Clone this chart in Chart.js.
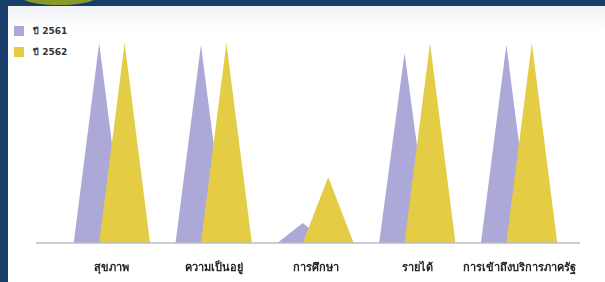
<!DOCTYPE html>
<html>
<head>
<meta charset="utf-8">
<script src="https://cdn.jsdelivr.net/npm/chart.js@4"></script>
<style>
  html, body { margin: 0; padding: 0; }
  body { width: 605px; height: 282px; background: #173d69; position: relative; overflow: hidden; }
  .logo { position: absolute; left: 22px; top: -10px; width: 74px; height: 15px; border-radius: 50%; background: #8a9a2a; }
  .panel { position: absolute; left: 8px; top: 6px; width: 597px; height: 276px;
           background: linear-gradient(#eef1f5 0px, #ffffff 22px); }
  .legend { position: absolute; left: 14px; top: 25px; font: bold 9px "DejaVu Sans", sans-serif; color: #333; }
  .legend div { display: flex; align-items: center; height: 11px; margin-bottom: 10px; }
  .legend span.sw { width: 10px; height: 10px; margin-right: 9px; display: inline-block; }
  canvas { position: absolute; left: 8px; top: 6px; }
</style>
</head>
<body>
<div class="logo"></div>
<div class="panel"></div>
<div class="legend" id="legend"></div>
<canvas id="chart" width="597" height="276"></canvas>
<script>
// ─── Data ─────────────────────────────────────────────

const CATEGORIES = ['สุขภาพ', 'ความเป็นอยู่', 'การศึกษา', 'รายได้', 'การเข้าถึงบริการภาครัฐ'];
const SERIES_NAMES = ['ปี 2561', 'ปี 2562'];
const VALUES_2561 = [100, 99, 10, 95, 99];
const VALUES_2562 = [100, 100, 33, 100, 100];
const COLORS = ['#aca8d8', '#e4cd45'];

// ─── Legend (vertical, top left) ──────────────────────

document.getElementById('legend').innerHTML = SERIES_NAMES.map((n, i) =>
  `<div><span class="sw" style="background:${COLORS[i]}"></span>${n}</div>`).join('');

// ─── Triangle plugin: draws each bar as a pyramid ─────

const triangles = {
  id: 'triangles',
  afterDatasetsDraw(chart) {
    const ctx = chart.ctx;
    chart.data.datasets.forEach((ds, di) => {
      chart.getDatasetMeta(di).data.forEach(bar => {
        const half = bar.width; // base twice the bar slot, so neighbours overlap
        ctx.beginPath();
        ctx.moveTo(bar.x - half, bar.base);
        ctx.lineTo(bar.x, bar.y);
        ctx.lineTo(bar.x + half, bar.base);
        ctx.closePath();
        ctx.fillStyle = COLORS[di];
        ctx.fill();
      });
    });
    // baseline
    const x = chart.scales.x;
    ctx.strokeStyle = '#b8bcc4';
    ctx.lineWidth = 1.5;
    ctx.beginPath();
    ctx.moveTo(chart.chartArea.left - 25, x.top);
    ctx.lineTo(chart.chartArea.right + 10, x.top);
    ctx.stroke();
  }
};

new Chart(document.getElementById('chart'), {
  type: 'bar',
  data: {
    labels: CATEGORIES,
    datasets: [
      { label: SERIES_NAMES[0], data: VALUES_2561, backgroundColor: 'rgba(0,0,0,0)' },
      { label: SERIES_NAMES[1], data: VALUES_2562, backgroundColor: 'rgba(0,0,0,0)' },
    ],
  },
  options: {
    responsive: false,
    animation: false,
    categoryPercentage: 0.5,
    barPercentage: 1,
    layout: { padding: { left: 53, right: 35, top: 37, bottom: 0 } },
    scales: {
      x: {
        grid: { display: false },
        border: { display: false },
        ticks: {
          color: '#222', padding: 11, maxRotation: 0, minRotation: 0, autoSkip: false,
          font: { size: 11, weight: 'bold', family: 'DejaVu Sans' },
        },
        afterFit: s => { s.height = 39; },
      },
      y: { display: false, min: 0, max: 100 },
    },
    plugins: { legend: { display: false }, tooltip: { enabled: false } },
  },
  plugins: [triangles],
});
</script>
</body>
</html>
